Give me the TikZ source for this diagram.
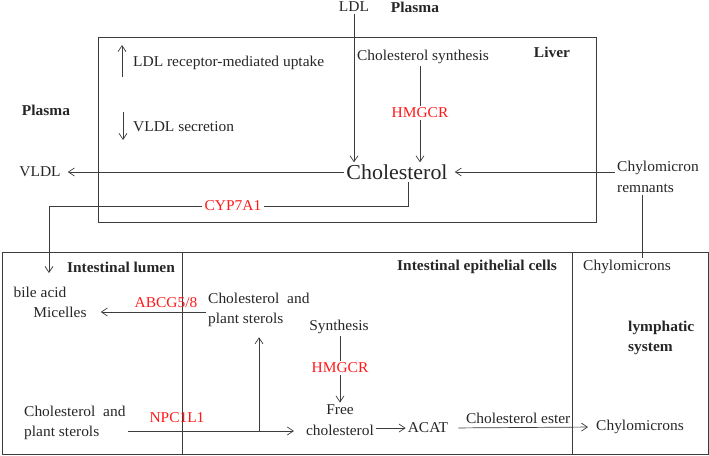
\documentclass[tikz,border=0pt]{standalone}
\usepackage{fontspec}
\setmainfont{Liberation Serif}[FakeStretch=1.03]
\usetikzlibrary{arrows.meta}
\definecolor{ink}{HTML}{3C3C3C}
\definecolor{enzred}{HTML}{FF1A1A}

\begin{document}
\begin{tikzpicture}[
    x=1pt,y=-1pt,
    >={Straight Barb[length=6pt,width=8pt]},
    every node/.style={font=\fontsize{15}{20.5}\selectfont,text=black!85,inner sep=2pt},
    lbl/.style={font=\fontsize{15}{20.5}\selectfont\bfseries},
    enz/.style={text=enzred},
    big/.style={font=\fontsize{21.3}{24}\selectfont},
    flow/.style={->,draw=ink,line width=0.7pt},
    link/.style={draw=ink,line width=0.7pt},
    region/.style={draw=ink,line width=0.9pt}
    ]
    \useasboundingbox (0,0) rectangle (709,455);

    % regions
    \draw[region] (98,37) rectangle (596,222);
    \draw[region] (2,252) rectangle (708,454);
    \draw[region] (182,252) -- (182,454);
    \draw[region] (572,252) -- (572,454);

    % liver
    \node (ldl) at (354,7) {LDL};
    \node[lbl] (plasmaT) at (415,7) {Plasma};
    \node[lbl] (liver) at (552,52) {Liver};
    \node[lbl] (plasmaL) at (46,110) {Plasma};
    \node[anchor=west] (uptake) at (131,63) {LDL receptor-mediated uptake};
    \node[anchor=west] (secr) at (131,127) {VLDL secretion};
    \node[big] (chol) at (397,172) {Cholesterol};
    \node (synth) at (423,57) {Cholesterol synthesis};
    \node[enz] (hmgL) at (420,113) {HMGCR};
    \node (vldl) at (40,172) {VLDL};
    \node[align=left] (remn) at (658,177) {Chylomicron\\remnants};
    \node[enz] (cyp) at (233,206) {CYP7A1};
    \coordinate (upA) at (122,77);
    \coordinate (dnA) at (123,112);

    % intestine
    \node[lbl] (lumen) at (121,267) {Intestinal lumen};
    \node[lbl] (epi) at (477,267) {Intestinal epithelial cells};
    \node (chyT) at (627,267) {Chylomicrons};
    \node[lbl,anchor=west,align=left] (lymph) at (626,338) {lymphatic\\system};
    \node (bile) at (40,292) {bile acid};
    \node (mic) at (60,312) {Micelles};
    \node[enz] (abcg) at (166,303) {ABCG5/8};
    \node[anchor=west,align=left] (plantU) at (206,310) {Cholesterol\ \ and\\plant sterols};
    \node[anchor=west,align=left] (plantL) at (22,423) {Cholesterol\ \ and\\plant sterols};
    \node[enz] (npc) at (177,418) {NPC1L1};
    \node (synI) at (339,327) {Synthesis};
    \node[enz] (hmgI) at (340,368) {HMGCR};
    \node[align=center] (free) at (340,420) {Free\\cholesterol};
    \node (acat) at (428,428) {ACAT};
    \node (chyL) at (640,427) {Chylomicrons};
    \coordinate (bileTip) at (49,273);
    \coordinate (junct) at (259,431);

    % liver arrows
    \draw[flow] (upA) -- +(0,-32);
    \draw[flow] (dnA) -- +(0,28);
    \draw[flow] (ldl.south) -- (ldl.south |- chol.north);
    \draw[link] (synth.south -| hmgL) -- (hmgL.north);
    \draw[flow] (hmgL.south) -- (hmgL.south |- chol.north);
    \draw[flow,shorten >=5pt] (remn.west |- chol) -- (chol.east);
    \draw[flow,shorten >=5pt] (chol.west) -- (vldl.east);
    \draw[link] ([xshift=11pt]chol.south) |- (cyp.east);
    \draw[flow] (cyp.west) -| (bileTip);
    \draw[link] ([xshift=-16pt]remn.south) -- ([xshift=-16pt]remn.south |- chyT.north);

    % intestine arrows
    \draw[flow,shorten >=12pt] (plantU.west |- mic) -- (mic.east);
    \draw[flow,shorten >=10pt] (plantL.east |- junct) -- (free.west |- junct);
    \draw[flow,shorten >=8pt] (junct) -- (junct |- plantU.south);
    \draw[link] (synI.south -| hmgI) -- (hmgI.north);
    \draw[flow] (hmgI.south) -- (free.north);
    \draw[flow] (free.east |- acat) -- (acat.west);
    \draw[flow,shorten <=8pt,shorten >=6pt] (acat.east) -- (chyL.west)
        node[midway,above=3pt,inner sep=1pt,xshift=-4pt] {Cholesterol ester};
\end{tikzpicture}
\end{document}
